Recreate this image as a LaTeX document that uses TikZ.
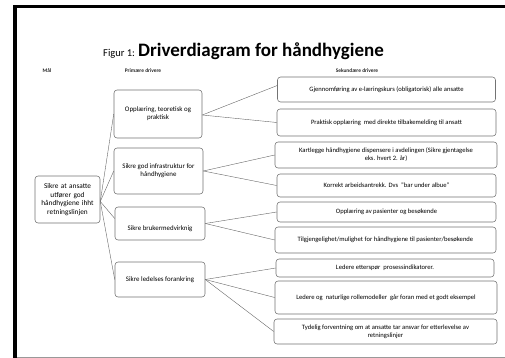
\documentclass[tikz,border=0pt]{standalone}
\usepackage{fontspec}
\setmainfont{Carlito}
\begin{document}
\begin{tikzpicture}[x=1pt,y=-1pt,
  box/.style={draw=black!55,line width=0.55pt,rounded corners=3pt,fill=white,inner sep=1pt,align=center},
  goalbox/.style={box,font=\fontsize{7.3}{8.7}\selectfont},
  primbox/.style={box,font=\fontsize{6.9}{8.2}\selectfont},
  secbox/.style={box,font=\fontsize{6.6}{8}\selectfont,minimum width=221pt},
  conn/.style={draw=black!60,line width=0.4pt},
  hdr/.style={font=\bfseries\fontsize{5.4}{6.5}\selectfont,text=black!85}]
\useasboundingbox (0,0) rectangle (505,358);
% frame
\draw[line width=3.5pt] (15,358) -- (15,6.5) -- (505,6.5);
\draw[black!40,line width=1pt] (17,357.5) -- (505,357.5);
% title
\node[anchor=base west,inner sep=0] (title) at (103,57) {{\fontsize{10.5}{12}\selectfont Figur 1: }{\bfseries\fontsize{19}{22}\selectfont Driverdiagram for håndhygiene}};
% headers
\node[hdr] (h1) at (47,71) {Mål};
\node[hdr] (h2) at (143,71) {Primære drivere};
\node[hdr] (h3) at (357,71) {Sekundære drivere};
% goal
\node[goalbox,minimum width=65pt,minimum height=47pt,text width=62pt] (g) at (67.5,199.5) {Sikre at ansatte\\utfører god\\håndhygiene ihht\\retningslinjen};
% primary
\node[primbox,minimum width=88pt,minimum height=48pt] (p1) at (158,114) {Opplæring, teoretisk og\\praktisk};
\node[primbox,minimum width=89pt,minimum height=46pt] (p2) at (158.5,171) {Sikre god infrastruktur for\\håndhygiene};
\node[primbox,minimum width=90pt,minimum height=33pt] (p3) at (160,223.5) {};
\node[primbox,draw=none,fill=none] (p3t) at (160,229) {Sikre brukermedvirknig};
\node[primbox,minimum width=90pt,minimum height=35pt] (p4) at (160,279.5) {Sikre ledelses forankring};
% secondary
\node[secbox,minimum width=218pt,minimum height=25pt] (s1) at (386.5,89.5) {Gjennomføring av e-læringskurs (obligatorisk) alle ansatte};
\node[secbox,minimum width=219pt,minimum height=27pt] (s2) at (386.5,122.5) {Praktisk opplæring\ \ med direkte tilbakemelding til ansatt};
\node[secbox,minimum width=222pt,minimum height=26pt] (s3) at (386,155) {Kartlegge håndhygiene dispensere i avdelingen (Sikre gjentagelse\\eks. hvert 2. år)};
\node[secbox,minimum width=219pt,minimum height=23pt] (s4) at (386.5,185.5) {Korrekt arbeidsantrekk. Dvs\ \ "bar under albue"};
\node[secbox,minimum width=219pt,minimum height=20pt] (s5) at (386.5,212) {Opplæring av pasienter og besøkende};
\node[secbox,minimum width=221pt,minimum height=26pt] (s6) at (385.5,240) {Tilgjengelighet/mulighet for håndhygiene til pasienter/besøkende};
\node[secbox,minimum width=218pt,minimum height=18pt] (s7) at (385,268) {Ledere etterspør\ \ prosessindikatorer.};
\node[secbox,minimum width=222pt,minimum height=33pt] (s8) at (386,297.5) {Ledere og\ \ naturlige rollemodeller\ \ går foran med et godt eksempel};
\node[secbox,minimum width=223pt,minimum height=25pt] (s9) at (385.5,331.5) {Tydelig forventning om at ansatte tar ansvar for etterlevelse av\\retningslinjer};
% connectors goal -> primary
\coordinate (gr) at ([yshift=-2pt]g.east);
\draw[conn] (gr) -- (p1.west);
\draw[conn] (gr) -- (p2.west);
\draw[conn] (gr) -- ([yshift=5pt]p3.west);
\draw[conn] (gr) -- (p4.west);
% primary -> secondary
\coordinate (p1r) at ([yshift=-1pt]p1.east);
\draw[conn] (p1r) -- ([yshift=4pt]s1.west);
\draw[conn] (p1r) -- (s2.west);
\draw[conn] (p2.east) -- (s3.west);
\draw[conn] (p2.east) -- (s4.west);
\coordinate (p3r) at ([yshift=0pt]p3.east);
\draw[conn] (p3r) -- (s5.west);
\draw[conn] (p3r) -- (s6.west);
\draw[conn] (p4.east) -- (s7.west);
\draw[conn] (p4.east) -- (s8.west);
\draw[conn] (p4.east) -- (s9.west);
\end{tikzpicture}
\end{document}
